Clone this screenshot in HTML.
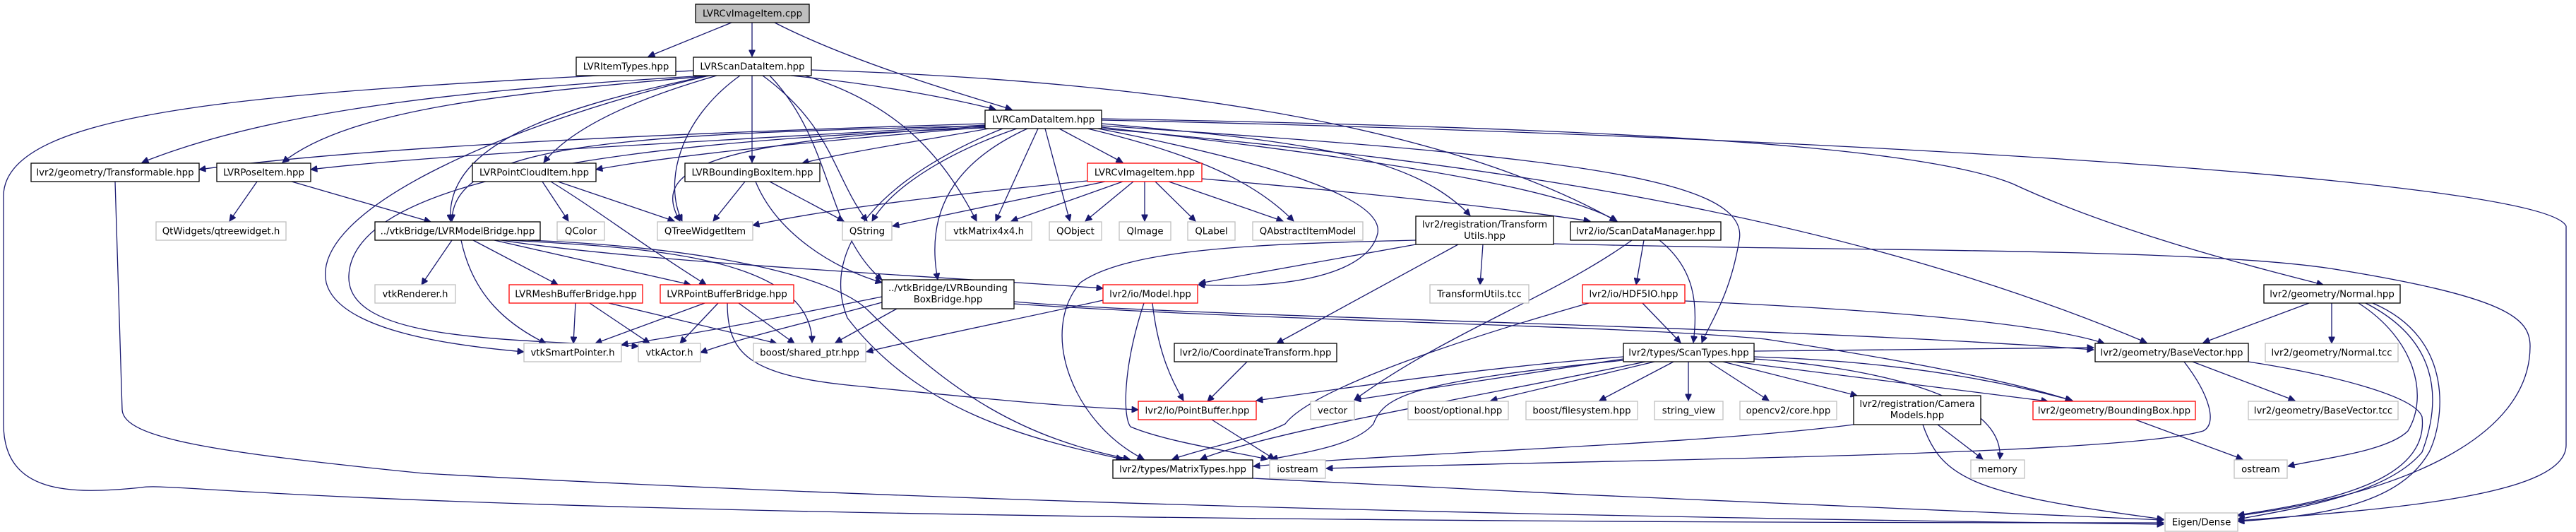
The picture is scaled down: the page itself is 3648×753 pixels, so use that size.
<!DOCTYPE html>
<html><head><meta charset="utf-8">
<style>
html,body{margin:0;padding:0;background:#fff;}
svg{display:block;}
text{font-family:"DejaVu Sans","Liberation Sans",sans-serif;font-size:13.3px;fill:#000;text-anchor:middle;}
.e{fill:none;stroke:#191970;stroke-width:1.3;marker-end:url(#a);}
.n{fill:#fff;stroke:#000;stroke-width:1.3;}
.g{fill:#fff;stroke:#bfbfbf;stroke-width:1.3;}
.r{fill:#fff;stroke:#ff0000;stroke-width:1.3;}
</style></head><body>
<svg width="3648" height="753" viewBox="0 0 3648 753" xmlns="http://www.w3.org/2000/svg">
<defs><marker id="a" viewBox="0 0 10 10" refX="10" refY="5" markerWidth="12" markerHeight="9" markerUnits="userSpaceOnUse" orient="auto"><path d="M0,0 L10,5 L0,10 z" fill="#191970" stroke="#191970"/></marker></defs>
<g>
<!-- cpp -->
<path class="e" d="M1036,32 L918,80"/>
<path class="e" d="M1065,32 L1065,80"/>
<path class="e" d="M1097,32 C1200,85 1350,130 1433,155"/>
<!-- ScanDataItem -->
<path class="e" d="M1000,107 C700,125 400,150 201,230"/>
<path class="e" d="M1010,107 C750,130 500,150 400,230"/>
<path class="e" d="M1003,107 C800,150 630,200 638,313"/>
<path class="e" d="M1015,107 C900,140 810,180 770,230"/>
<path class="e" d="M1048,107 C960,170 940,260 966,313"/>
<path class="e" d="M1065,107 L1065,230"/>
<path class="e" d="M1080,107 C1180,180 1180,250 1228,313"/>
<path class="e" d="M1120,107 C1250,120 1350,140 1410,155"/>
<path class="e" d="M1140,107 C1280,150 1340,230 1383,313"/>
<path class="e" d="M1149,99 C1500,110 2000,150 2289,313"/>
<path class="e" d="M982,100 C400,130 0,150 5,280 L5,600 C5,700 100,700 200,690 C250,680 500,740 3064,740"/>
<path class="e" d="M1090,107 C1180,200 1170,330 1249,396"/>
<path class="e" d="M1004,107 C700,180 440,300 462,400 C480,470 650,490 742,498"/>
<!-- CamDataItem -->
<path class="e" d="M1395,175 C900,190 500,210 282,240"/>
<path class="e" d="M1395,177 C1000,200 600,220 440,240"/>
<path class="e" d="M1395,178 C900,190 640,200 640,313"/>
<path class="e" d="M1395,180 C1150,200 950,220 844,240"/>
<path class="e" d="M1400,182 C1300,200 1200,215 1136,231"/>
<path class="e" d="M1395,179 C1000,200 920,240 963,313"/>
<path class="e" d="M1395,181 C900,200 500,250 494,390 C490,480 700,480 904,490"/>
<path class="e" d="M1440,182 C1330,220 1260,270 1235,313"/>
<path class="e" d="M1470,182 L1410,313"/>
<path class="e" d="M1480,182 L1515,313"/>
<path class="e" d="M1500,182 L1590,230"/>
<path class="e" d="M1540,182 C1700,220 1780,260 1832,313"/>
<path class="e" d="M1560,175 C1850,200 2000,220 2082,305"/>
<path class="e" d="M1560,180 C1900,220 2200,260 2290,313"/>
<path class="e" d="M1455,182 C1350,230 1310,300 1328,396"/>
<path class="e" d="M1555,182 C1800,230 1960,280 1951,330 C1940,380 1850,410 1697,403"/>
<path class="e" d="M1420,182 C1250,250 1160,350 1200,450 C1300,580 1450,620 1590,650"/>
<path class="e" d="M1560,168 C2200,180 2700,200 2850,260 C3000,330 3200,380 3290,403"/>
<path class="e" d="M1560,182 C2100,230 2600,300 3040,485"/>
<path class="e" d="M1560,170 C2500,190 3600,250 3634,320 L3634,630 C3634,700 3400,720 3169,737"/>
<path class="e" d="M1560,178 C2200,220 2480,250 2463,340 C2450,420 2420,460 2410,485"/>
<!-- CvImageItem -->
<path class="e" d="M1540,256 C1300,280 1150,300 1066,319"/>
<path class="e" d="M1565,257 L1264,320"/>
<path class="e" d="M1590,257 L1432,313"/>
<path class="e" d="M1605,257 L1537,313"/>
<path class="e" d="M1621,257 L1621,313"/>
<path class="e" d="M1636,257 L1693,313"/>
<path class="e" d="M1655,257 L1817,313"/>
<path class="e" d="M1702,253 C1900,270 2100,290 2252,313"/>
<!-- ScanDataManager -->
<path class="e" d="M2328,340 L2317,403"/>
<path class="e" d="M2350,340 C2400,380 2405,430 2398,485"/>
<path class="e" d="M2311,340 C2200,420 2050,470 1918,566"/>
<path class="e" d="M2200,345 C2600,356 3100,350 3300,380 C3550,420 3583,450 3583,490 C3583,620 3400,700 3169,730"/>
<!-- TransformUtils -->
<path class="e" d="M2100,346 L2096,403"/>
<path class="e" d="M2065,346 L1808,486"/>
<path class="e" d="M2005,346 L1698,401"/>
<path class="e" d="M2005,340 C1800,345 1600,350 1530,400 C1470,470 1520,600 1620,650"/>
<!-- BoundingBoxBridge -->
<path class="e" d="M1249,420 C1100,450 1000,470 880,488"/>
<path class="e" d="M1249,428 C1150,455 1060,475 992,499"/>
<path class="e" d="M1270,437 L1183,485"/>
<path class="e" d="M1436,427 C1700,450 2500,460 2965,495"/>
<path class="e" d="M1436,430 C1800,455 2300,460 2500,480 C2700,510 2850,540 2934,567"/>
<!-- ModelBridge -->
<path class="e" d="M640,340 L597,403"/>
<path class="e" d="M670,340 L790,403"/>
<path class="e" d="M700,340 L978,403"/>
<path class="e" d="M653,340 C670,420 720,460 773,486"/>
<path class="e" d="M720,340 C900,350 1150,360 1150,485"/>
<path class="e" d="M710,340 C900,370 1300,390 1562,408"/>
<path class="e" d="M747,340 C1000,350 1180,390 1230,440 C1350,560 1450,620 1600,650"/>
<!-- MeshBufferBridge -->
<path class="e" d="M815,429 L812,486"/>
<path class="e" d="M835,429 L920,486"/>
<path class="e" d="M862,429 L1100,486"/>
<!-- PointBufferBridge -->
<path class="e" d="M998,429 L843,486"/>
<path class="e" d="M1017,429 L963,486"/>
<path class="e" d="M1046,429 L1125,486"/>
<path class="e" d="M1030,429 C1030,500 1060,530 1200,545 C1400,565 1500,575 1612,580"/>
<!-- PointCloudItem -->
<path class="e" d="M768,257 L805,313"/>
<path class="e" d="M790,257 L955,313"/>
<path class="e" d="M780,257 C850,300 900,340 1000,403"/>
<!-- PoseItem -->
<path class="e" d="M364,257 L325,313"/>
<path class="e" d="M413,257 L610,314"/>
<!-- BoundingBoxItem -->
<path class="e" d="M1055,257 L1010,313"/>
<path class="e" d="M1090,257 L1195,313"/>
<path class="e" d="M1070,257 C1100,330 1180,380 1249,400"/>
<!-- Transformable -->
<path class="e" d="M163,257 L173,580 C175,620 300,640 600,670 C1500,720 2500,735 3064,742"/>
<!-- Model -->
<path class="e" d="M1562,425 C1450,450 1300,480 1227,498"/>
<path class="e" d="M1632,429 C1640,500 1660,540 1676,567"/>
<path class="e" d="M1620,429 C1590,520 1590,590 1601,604 C1650,625 1750,640 1795,650"/>
<path class="e" d="M1766,512 L1710,568"/>
<path class="e" d="M1716,594 L1805,650"/>
<!-- HDF5IO -->
<path class="e" d="M2326,429 L2380,485"/>
<path class="e" d="M2386,426 C2700,440 2900,460 2980,486"/>
<path class="e" d="M2250,429 C2000,500 1850,560 1820,600 C1780,620 1720,630 1660,650"/>
<!-- ScanTypes -->
<path class="e" d="M2299,505 C2100,520 1900,550 1779,567"/>
<path class="e" d="M2299,508 L1918,566"/>
<path class="e" d="M2299,510 C2000,540 1960,560 1945,600 C1920,630 1850,640 1800,650"/>
<path class="e" d="M2343,512 L2111,567"/>
<path class="e" d="M2370,512 L2265,567"/>
<path class="e" d="M2391,512 L2391,567"/>
<path class="e" d="M2420,512 L2505,567"/>
<path class="e" d="M2440,512 L2630,560"/>
<path class="e" d="M2440,510 L2900,568"/>
<path class="e" d="M2484,505 C2650,510 2800,530 2935,567"/>
<path class="e" d="M2484,508 C2650,520 2840,560 2832,650"/>
<path class="e" d="M2330,512 C2100,560 1800,610 1700,650"/>
<path class="e" d="M2484,497 L2965,492"/>
<!-- CameraModels -->
<path class="e" d="M2744,601 L2808,650"/>
<path class="e" d="M2723,601 C2750,680 2800,700 3064,735"/>
<path class="e" d="M2625,601 C2400,630 2000,640 1775,660"/>
<!-- BaseVector -->
<path class="e" d="M3105,512 L3250,567"/>
<path class="e" d="M3093,512 C3130,560 3140,600 3120,610 C3000,645 2300,650 1878,663"/>
<path class="e" d="M3184,512 C3300,530 3420,560 3430,590 C3440,680 3300,710 3169,729"/>
<path class="e" d="M3024,594 L3176,650"/>
<!-- Normal -->
<path class="e" d="M3270,429 L3120,485"/>
<path class="e" d="M3302,429 L3302,486"/>
<path class="e" d="M3340,429 C3420,480 3440,560 3410,610 C3380,640 3280,650 3240,660"/>
<path class="e" d="M3350,429 C3450,480 3460,560 3430,640 C3380,700 3250,720 3169,735"/>
<path class="e" d="M3360,429 C3480,480 3460,600 3440,640 C3400,710 3300,730 3169,738"/>
<!-- MatrixTypes -->
<path class="e" d="M1774,677 C2200,700 2800,725 3064,736"/>
</g>
<g>
<rect x="985" y="6" width="161" height="26" fill="#bfbfbf" stroke="#000" stroke-width="1.3"/><text x="1065.5" y="23.5">LVRCvImageItem.cpp</text>
<rect class="n" x="816" y="81" width="141" height="26"/><text x="886.5" y="98.5">LVRItemTypes.hpp</text>
<rect class="n" x="982" y="81" width="167" height="26"/><text x="1065.5" y="98.5">LVRScanDataItem.hpp</text>
<rect class="n" x="1395" y="156" width="165" height="26"/><text x="1477.5" y="173.5">LVRCamDataItem.hpp</text>
<rect class="n" x="44" y="231" width="238" height="26"/><text x="163" y="248.5">lvr2/geometry/Transformable.hpp</text>
<rect class="n" x="307" y="231" width="133" height="26"/><text x="373.5" y="248.5">LVRPoseItem.hpp</text>
<rect class="n" x="669" y="231" width="175" height="26"/><text x="756.5" y="248.5">LVRPointCloudItem.hpp</text>
<rect class="n" x="970" y="231" width="191" height="26"/><text x="1065.5" y="248.5">LVRBoundingBoxItem.hpp</text>
<rect class="r" x="1540" y="231" width="162" height="26"/><text x="1621" y="248.5">LVRCvImageItem.hpp</text>
<rect class="g" x="221" y="314" width="184" height="26"/><text x="313" y="331.5">QtWidgets/qtreewidget.h</text>
<rect class="n" x="531" y="314" width="234" height="26"/><text x="648" y="331.5">../vtkBridge/LVRModelBridge.hpp</text>
<rect class="g" x="789" y="314" width="67" height="26"/><text x="822.5" y="331.5">QColor</text>
<rect class="g" x="931" y="314" width="135" height="26"/><text x="998.5" y="331.5">QTreeWidgetItem</text>
<rect class="g" x="1193" y="314" width="70" height="26"/><text x="1228" y="331.5">QString</text>
<rect class="g" x="1339" y="314" width="122" height="26"/><text x="1400" y="331.5">vtkMatrix4x4.h</text>
<rect class="g" x="1486" y="314" width="74" height="26"/><text x="1523" y="331.5">QObject</text>
<rect class="g" x="1585" y="314" width="73" height="26"/><text x="1621.5" y="331.5">QImage</text>
<rect class="g" x="1682" y="314" width="67" height="26"/><text x="1715.5" y="331.5">QLabel</text>
<rect class="g" x="1774" y="314" width="156" height="26"/><text x="1852" y="331.5">QAbstractItemModel</text>
<rect class="n" x="2005" y="306" width="195" height="40"/><text x="2102.5" y="322">lvr2/registration/Transform</text><text x="2102.5" y="338">Utils.hpp</text>
<rect class="n" x="2224" y="314" width="213" height="26"/><text x="2330.5" y="331.5">lvr2/io/ScanDataManager.hpp</text>
<rect class="n" x="1249" y="396" width="187" height="41"/><text x="1342.5" y="412">../vtkBridge/LVRBounding</text><text x="1342.5" y="428">BoxBridge.hpp</text>
<rect class="g" x="531" y="403" width="114" height="26"/><text x="588" y="420.5">vtkRenderer.h</text>
<rect class="r" x="721" y="403" width="189" height="26"/><text x="815.5" y="420.5">LVRMeshBufferBridge.hpp</text>
<rect class="r" x="935" y="403" width="189" height="26"/><text x="1029.5" y="420.5">LVRPointBufferBridge.hpp</text>
<rect class="r" x="1562" y="403" width="134" height="26"/><text x="1629" y="420.5">lvr2/io/Model.hpp</text>
<rect class="g" x="2025" y="403" width="140" height="26"/><text x="2095" y="420.5">TransformUtils.tcc</text>
<rect class="r" x="2241" y="403" width="145" height="26"/><text x="2313.5" y="420.5">lvr2/io/HDF5IO.hpp</text>
<rect class="n" x="3206" y="403" width="193" height="26"/><text x="3302.5" y="420.5">lvr2/geometry/Normal.hpp</text>
<rect class="g" x="742" y="486" width="138" height="26"/><text x="811" y="503.5">vtkSmartPointer.h</text>
<rect class="g" x="904" y="486" width="88" height="26"/><text x="948" y="503.5">vtkActor.h</text>
<rect class="g" x="1067" y="486" width="159" height="26"/><text x="1146.5" y="503.5">boost/shared_ptr.hpp</text>
<rect class="n" x="1663" y="486" width="230" height="26"/><text x="1778" y="503.5">lvr2/io/CoordinateTransform.hpp</text>
<rect class="n" x="2299" y="486" width="185" height="26"/><text x="2391.5" y="503.5">lvr2/types/ScanTypes.hpp</text>
<rect class="n" x="2967" y="486" width="217" height="26"/><text x="3075.5" y="503.5">lvr2/geometry/BaseVector.hpp</text>
<rect class="g" x="3208" y="486" width="188" height="26"/><text x="3302" y="503.5">lvr2/geometry/Normal.tcc</text>
<rect class="r" x="1612" y="568" width="167" height="26"/><text x="1695.5" y="585.5">lvr2/io/PointBuffer.hpp</text>
<rect class="g" x="1856" y="568" width="62" height="26"/><text x="1887" y="585.5">vector</text>
<rect class="g" x="1994" y="568" width="142" height="26"/><text x="2065" y="585.5">boost/optional.hpp</text>
<rect class="g" x="2161" y="568" width="158" height="26"/><text x="2240" y="585.5">boost/filesystem.hpp</text>
<rect class="g" x="2343" y="568" width="97" height="26"/><text x="2391.5" y="585.5">string_view</text>
<rect class="g" x="2464" y="568" width="137" height="26"/><text x="2532.5" y="585.5">opencv2/core.hpp</text>
<rect class="n" x="2625" y="560" width="180" height="41"/><text x="2715" y="576">lvr2/registration/Camera</text><text x="2715" y="592">Models.hpp</text>
<rect class="r" x="2879" y="568" width="230" height="26"/><text x="2994" y="585.5">lvr2/geometry/BoundingBox.hpp</text>
<rect class="g" x="3184" y="568" width="212" height="26"/><text x="3290" y="585.5">lvr2/geometry/BaseVector.tcc</text>
<rect class="n" x="1576" y="651" width="198" height="26"/><text x="1675" y="668.5">lvr2/types/MatrixTypes.hpp</text>
<rect class="g" x="1798" y="651" width="79" height="26"/><text x="1837.5" y="668.5">iostream</text>
<rect class="g" x="2791" y="651" width="76" height="26"/><text x="2829" y="668.5">memory</text>
<rect class="g" x="3164" y="651" width="75" height="26"/><text x="3201.5" y="668.5">ostream</text>
<rect class="g" x="3066" y="726" width="103" height="26"/><text x="3117.5" y="743.5">Eigen/Dense</text>
</g>
</svg>
</body></html>
